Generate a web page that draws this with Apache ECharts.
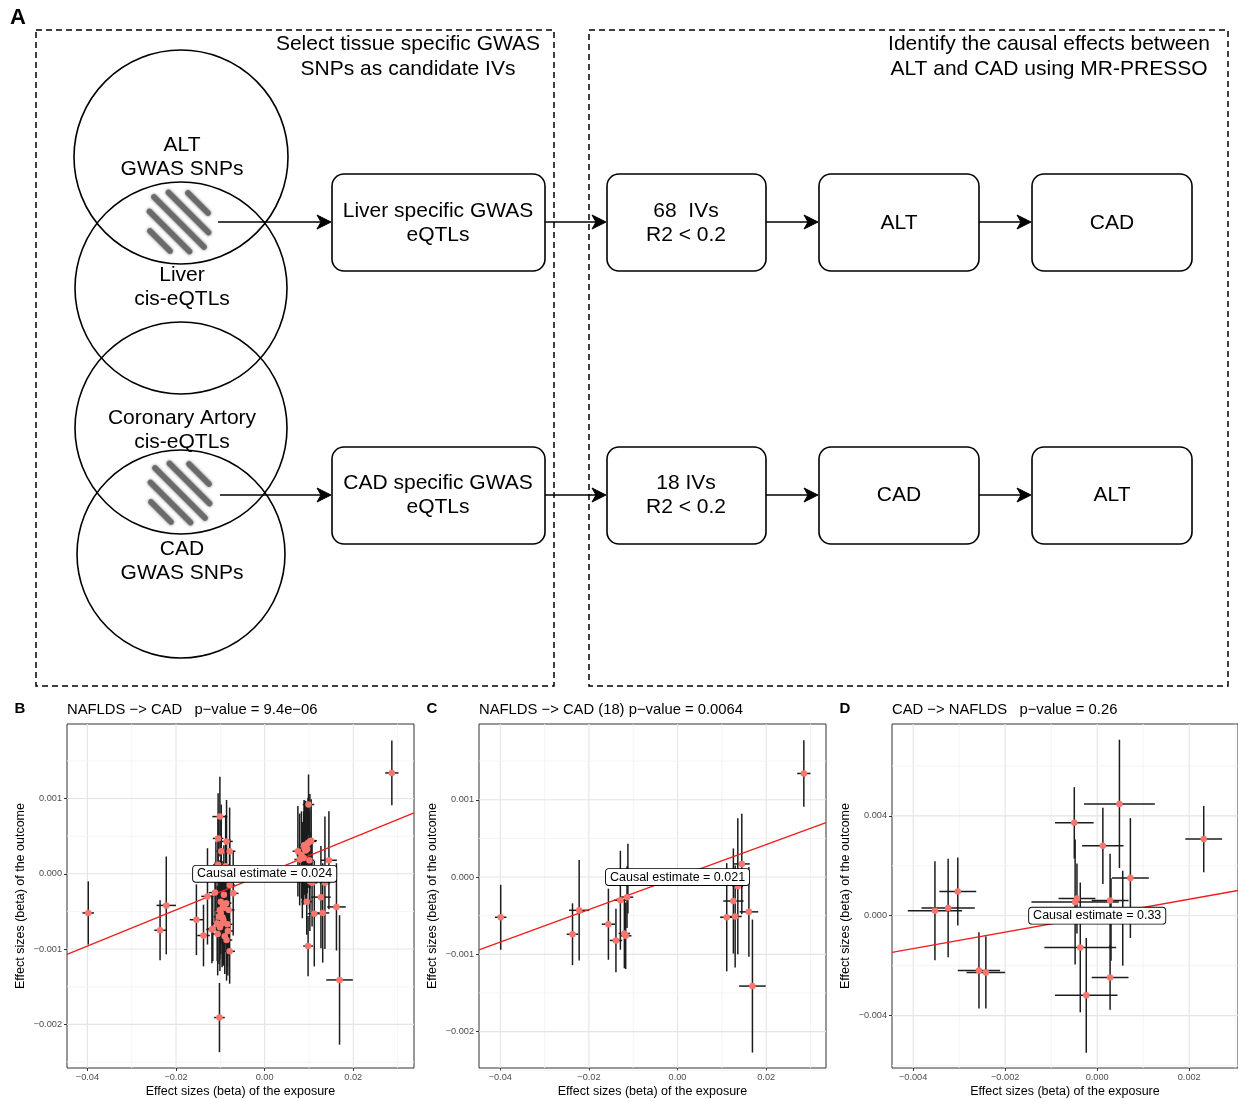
<!DOCTYPE html>
<html>
<head>
<meta charset="utf-8">
<script src="https://cdn.jsdelivr.net/npm/echarts@6/dist/echarts.min.js"></script>
<style>
  html, body { margin: 0; padding: 0; background: #ffffff; }
  #chart { width: 1238px; height: 1099px; }
</style>
</head>
<body>
<div id="chart"></div>
<script>
// ---------------- Panel B: NAFLDS -> CAD, all 68 IVs ----------------
const bExposure = [
  -0.0398, -0.0236, -0.0222, -0.0154, -0.0138, -0.0129, -0.0119, -0.0117, -0.0112,
   0.0112,  0.0127,  0.0131,  0.0136,  0.0145,  0.0162,  0.0169,  0.0287, -0.0110,
  -0.0101, -0.0105, -0.0086, -0.0098, -0.0079, -0.0099, -0.0094, -0.0091, -0.0101,
  -0.0081, -0.0099, -0.0103, -0.0107, -0.0096, -0.0090, -0.0086, -0.0079, -0.0071,
  -0.0102, -0.0079, -0.0092, -0.0083, -0.0098, -0.0088, -0.0106, -0.0095, -0.0093,
  -0.0101, -0.0087, -0.0105, -0.0084,
   0.0099,  0.0075,  0.0083,  0.0090,  0.0094,  0.0098,  0.0102,  0.0105,  0.0092,
   0.0079,  0.0095,  0.0098,  0.0085,  0.0102,  0.0096,  0.0088,  0.0107,  0.0101,  0.0089
];
const bOutcome = [
  -0.00052, -0.00075, -0.00042, -0.00061, -0.00082, -0.00030, -0.00074, -0.00073, -0.00025,
  -0.00053, -0.00031, -0.00052, -0.00012,  0.00018, -0.00044, -0.00141,  0.00134, -0.00002,
   0.00076,  0.00047,  0.00043,  0.00030,  0.00030, -0.00037, -0.00043, -0.00045, -0.00048,
  -0.00048, -0.00052, -0.00057, -0.00066, -0.00066, -0.00083, -0.00088, -0.00103, -0.00026,
  -0.00191, -0.00015, -0.00028, -0.00076,  0.00000,  0.00010, -0.00080, -0.00058, -0.00062,
  -0.00071, -0.00039,  0.00012, -0.00067,
   0.00092,  0.00030,  0.00025,  0.00034,  0.00039,  0.00041,  0.00043,  0.00044,  0.00031,
   0.00019, -0.00037, -0.00096,  0.00005, -0.00010,  0.00033,  0.00021, -0.00012,  0.00018,  0.00038
];
const bExposureSe = [
  0.0013, 0.0013, 0.0022, 0.0015, 0.0014, 0.0014, 0.0013, 0.0013, 0.0014,
  0.0015, 0.0022, 0.0015, 0.0012, 0.0018, 0.0021, 0.0030, 0.0015, 0.0012,
  0.0017, 0.0012, 0.0014, 0.0011, 0.0013, 0.0012, 0.0010, 0.0011, 0.0012,
  0.0013, 0.0011, 0.0012, 0.0013, 0.0011, 0.0012, 0.0013, 0.0012, 0.0012,
  0.0012, 0.0012, 0.0011, 0.0012, 0.0010, 0.0011, 0.0012, 0.0011, 0.0010,
  0.0011, 0.0012, 0.0011, 0.0011,
  0.0013, 0.0012, 0.0011, 0.0012, 0.0013, 0.0012, 0.0014, 0.0013, 0.0011,
  0.0012, 0.0012, 0.0011, 0.0011, 0.0012, 0.0011, 0.0012, 0.0012, 0.0011, 0.0012
];
const bOutcomeSe = [
  0.00042, 0.00040, 0.00065, 0.00047, 0.00041, 0.00064, 0.00045, 0.00043, 0.00040,
  0.00070, 0.00068, 0.00066, 0.00088, 0.00065, 0.00058, 0.00086, 0.00043, 0.00045,
  0.00053, 0.00060, 0.00055, 0.00062, 0.00058, 0.00057, 0.00060, 0.00052, 0.00066,
  0.00061, 0.00055, 0.00063, 0.00050, 0.00058, 0.00050, 0.00054, 0.00043, 0.00056,
  0.00046, 0.00061, 0.00066, 0.00059, 0.00070, 0.00068, 0.00055, 0.00064, 0.00060,
  0.00058, 0.00063, 0.00066, 0.00057,
  0.00040, 0.00060, 0.00058, 0.00062, 0.00057, 0.00060, 0.00063, 0.00055, 0.00066,
  0.00061, 0.00044, 0.00040, 0.00064, 0.00066, 0.00059, 0.00062, 0.00058, 0.00065, 0.00060
];
const bSlope = 0.024;

// ---------------- Panel C: NAFLDS -> CAD, 18 IVs ----------------
const cExposure = [
  -0.0399, -0.0237, -0.0222, -0.0156, -0.0139, -0.0129, -0.0120, -0.0117, -0.0114,
   0.0111,  0.0126,  0.0130,  0.0136,  0.0145,  0.0161,  0.0169,  0.0285, -0.0112
];
const cOutcome = [
  -0.00052, -0.00074, -0.00043, -0.00061, -0.00082, -0.00030, -0.00073, -0.00076, -0.00026,
  -0.00052, -0.00031, -0.00051, -0.00012,  0.00017, -0.00045, -0.00141,  0.00134, -0.00002
];
const cExposureSe = [
  0.0013, 0.0013, 0.0023, 0.0015, 0.0014, 0.0014, 0.0013, 0.0013, 0.0014,
  0.0015, 0.0023, 0.0015, 0.0012, 0.0018, 0.0021, 0.0030, 0.0015, 0.0012
];
const cOutcomeSe = [
  0.00042, 0.00040, 0.00065, 0.00046, 0.00041, 0.00064, 0.00045, 0.00043, 0.00040,
  0.00070, 0.00068, 0.00066, 0.00088, 0.00065, 0.00058, 0.00086, 0.00043, 0.00045
];
const cSlope = 0.021;

// ---------------- Panel D: CAD -> NAFLDS ----------------
const dExposure = [
  -0.003527, -0.00324, -0.00303, -0.00257, -0.00242, -0.000498, 0.000483, 0.000123, 0.002315,
   0.000721, -0.00044, -0.00048, 0.00028, -0.000368, 0.00028, -0.000238, 0.000555, 0.00030
];
const dOutcome = [
   0.00020, 0.00031, 0.00097, -0.00219, -0.00227, 0.00372, 0.00448, 0.00280, 0.00307,
   0.00151, 0.00069, 0.00055, 0.00061, -0.00127, -0.00247, -0.00319, -0.00010, -0.00015
];
const dExposureSe = [
  0.00059, 0.00058, 0.00040, 0.00046, 0.00042, 0.00042, 0.00077, 0.00045, 0.00040,
  0.00040, 0.00040, 0.00095, 0.00040, 0.00078, 0.00040, 0.00068, 0.00030, 0.00020
];
const dOutcomeSe = [
  0.00198, 0.00197, 0.00136, 0.00153, 0.00145, 0.00143, 0.00257, 0.00153, 0.00133,
  0.00240, 0.00140, 0.00250, 0.00187, 0.00260, 0.00130, 0.00230, 0.00190, 0.00165
];
const dSlope = 0.33;

// ---------------- Axis ticks and labels ----------------
const abTicksX = [-0.04, -0.02, 0, 0.02];
const abLabelsX = ['\u22120.04', '\u22120.02', '0.00', '0.02'];
const abMinorX = [-0.03, -0.01, 0.01, 0.03];
const abTicksY = [-0.002, -0.001, 0, 0.001];
const abLabelsY = ['\u22120.002', '\u22120.001', '0.000', '0.001'];
const abMinorY = [-0.0025, -0.0015, -0.0005, 0.0005, 0.0015];
const dTicksX = [-0.004, -0.002, 0, 0.002];
const dLabelsX = ['\u22120.004', '\u22120.002', '0.000', '0.002'];
const dMinorX = [-0.003, -0.001, 0.001, 0.003];
const dTicksY = [-0.004, 0, 0.004];
const dLabelsY = ['\u22120.004', '0.000', '0.004'];
const dMinorY = [-0.006, -0.002, 0.002, 0.006];

const FONT = '"Liberation Sans", Arial, Helvetica, sans-serif';

const chart = echarts.init(document.getElementById('chart'), null, { renderer: 'canvas' });

const grids = [];
const xAxes = [];
const yAxes = [];
const series = [];

function labelFor(ticks, labels) {
  return function (v) {
    for (let i = 0; i < ticks.length; i++) {
      if (Math.abs(v - ticks[i]) < 1e-9) return labels[i];
    }
    return '';
  };
}

function addPanel(p) {
  const i = grids.length;
  grids.push({
    left: p.left, top: 724, width: 347, height: 344,
    show: true, borderColor: '#333333', borderWidth: 1, backgroundColor: 'rgba(0,0,0,0)'
  });
  xAxes.push({
    gridIndex: i, type: 'value', min: p.xExt[0], max: p.xExt[1], position: 'bottom',
    axisLine: { show: false, onZero: false }, splitLine: { show: false },
    axisTick: { show: true, inside: false, customValues: p.xTicks, length: 3, lineStyle: { color: '#333333', width: 1 } },
    axisLabel: { customValues: p.xTicks, formatter: labelFor(p.xTicks, p.xLabels), color: '#4D4D4D', fontSize: 9.2, margin: 5, fontFamily: FONT },
    name: 'Effect sizes (beta) of the exposure', nameLocation: 'middle', nameGap: 17,
    nameTextStyle: { color: '#000000', fontSize: 12.5, fontFamily: FONT }
  });
  yAxes.push({
    gridIndex: i, type: 'value', min: p.yExt[0], max: p.yExt[1], position: 'left',
    axisLine: { show: false, onZero: false }, splitLine: { show: false },
    axisTick: { show: true, inside: false, customValues: p.yTicks, length: 3, lineStyle: { color: '#333333', width: 1 } },
    axisLabel: { customValues: p.yTicks, formatter: labelFor(p.yTicks, p.yLabels), color: '#4D4D4D', fontSize: 9.2, margin: 5, fontFamily: FONT },
    name: 'Effect sizes (beta) of the outcome', nameLocation: 'middle', nameGap: 40,
    nameTextStyle: { color: '#000000', fontSize: 12.5, fontFamily: FONT }
  });

  // background grid: [value, vertical?, major?]
  const gridRows = [];
  p.xTicks.forEach(v => gridRows.push([v, 1, 1]));
  p.xMinor.forEach(v => gridRows.push([v, 1, 0]));
  p.yTicks.forEach(v => gridRows.push([v, 0, 1]));
  p.yMinor.forEach(v => gridRows.push([v, 0, 0]));
  series.push({
    type: 'custom', xAxisIndex: i, yAxisIndex: i, silent: true, z: 1,
    data: gridRows,
    renderItem: function (params, api) {
      const v = api.value(0);
      const vertical = api.value(1) === 1;
      const major = api.value(2) === 1;
      const a = vertical ? api.coord([v, p.yExt[0]]) : api.coord([p.xExt[0], v]);
      const b = vertical ? api.coord([v, p.yExt[1]]) : api.coord([p.xExt[1], v]);
      return {
        type: 'line',
        shape: { x1: a[0], y1: a[1], x2: b[0], y2: b[1] },
        style: { stroke: major ? '#E4E4E4' : '#F1F1F1', lineWidth: major ? 1.1 : 0.8 }
      };
    }
  });

  // error bars for exposure and outcome effects
  const rows = p.ex.map((x, k) => [x, p.out[k], p.exSe[k], p.outSe[k]]);
  series.push({
    type: 'custom', xAxisIndex: i, yAxisIndex: i, silent: true, z: 2,
    data: rows,
    encode: { x: 0, y: 1 },
    renderItem: function (params, api) {
      const x = api.value(0), y = api.value(1), sx = api.value(2), sy = api.value(3);
      const l = api.coord([x - sx, y]), r = api.coord([x + sx, y]);
      const lo = api.coord([x, y - sy]), hi = api.coord([x, y + sy]);
      const st = { stroke: '#1c1c1c', lineWidth: 1.5 };
      return {
        type: 'group',
        children: [
          { type: 'line', shape: { x1: l[0], y1: l[1], x2: r[0], y2: r[1] }, style: st },
          { type: 'line', shape: { x1: lo[0], y1: lo[1], x2: hi[0], y2: hi[1] }, style: st }
        ]
      };
    }
  });

  // causal estimate line through the origin
  series.push({
    type: 'line', xAxisIndex: i, yAxisIndex: i, silent: true, z: 3,
    data: [[p.xExt[0], p.slope * p.xExt[0]], [p.xExt[1], p.slope * p.xExt[1]]],
    symbol: 'none', clip: true,
    lineStyle: { color: '#F21C1C', width: 1.3 }
  });

  // SNP points
  series.push({
    type: 'scatter', xAxisIndex: i, yAxisIndex: i, silent: true, z: 4,
    data: p.ex.map((x, k) => [x, p.out[k]]),
    symbol: 'circle', symbolSize: 6.5,
    itemStyle: { color: '#F8766D', opacity: 1 }
  });

  // estimate label at the origin
  series.push({
    type: 'custom', xAxisIndex: i, yAxisIndex: i, silent: true, z: 6,
    data: [[0, 0]],
    renderItem: function (params, api) {
      const c = api.coord([api.value(0), api.value(1)]);
      return {
        type: 'text', x: c[0], y: c[1],
        style: {
          text: 'Causal estimate = ' + p.slope, x: 0, y: 0,
          align: 'center', verticalAlign: 'middle',
          font: '12.5px ' + FONT, fill: '#000000',
          backgroundColor: '#ffffff', borderColor: '#000000', borderWidth: 0.9, borderRadius: 3,
          padding: [2, 4, 1, 4]
        }
      };
    }
  });
}

addPanel({
  left: 67, xExt: [-0.0446, 0.0337], yExt: [-0.00258, 0.00199],
  xTicks: abTicksX, xLabels: abLabelsX, xMinor: abMinorX,
  yTicks: abTicksY, yLabels: abLabelsY, yMinor: abMinorY,
  ex: bExposure, out: bOutcome, exSe: bExposureSe, outSe: bOutcomeSe, slope: bSlope
});
addPanel({
  left: 479, xExt: [-0.0448, 0.0335], yExt: [-0.00247, 0.00198],
  xTicks: abTicksX, xLabels: abLabelsX, xMinor: abMinorX,
  yTicks: abTicksY, yLabels: abLabelsY, yMinor: abMinorY,
  ex: cExposure, out: cOutcome, exSe: cExposureSe, outSe: cOutcomeSe, slope: cSlope
});
addPanel({
  left: 892, xExt: [-0.00446, 0.00306], yExt: [-0.00610, 0.00768],
  xTicks: dTicksX, xLabels: dLabelsX, xMinor: dMinorX,
  yTicks: dTicksY, yLabels: dLabelsY, yMinor: dMinorY,
  ex: dExposure, out: dOutcome, exSe: dExposureSe, outSe: dOutcomeSe, slope: dSlope
});

// ---------------- Workflow diagram (panel A) ----------------
const graphics = [];

function txt(text, x, y, size, opts) {
  opts = opts || {};
  graphics.push({
    type: 'text', silent: true, z: 10,
    style: {
      text: text, x: x, y: y, fill: '#000000',
      font: (opts.bold ? 'bold ' : '') + size + 'px ' + FONT,
      align: opts.align || 'center', verticalAlign: 'middle',
      lineHeight: opts.lineHeight || 25
    }
  });
}

function dashedBox(x, y, w, h) {
  graphics.push({
    type: 'rect', silent: true, z: 5,
    shape: { x: x, y: y, width: w, height: h },
    style: { fill: 'none', stroke: '#000000', lineWidth: 1.5, lineDash: [6, 4] }
  });
}

function roundBox(x, y, w, h) {
  graphics.push({
    type: 'rect', silent: true, z: 7,
    shape: { x: x, y: y, width: w, height: h, r: 12 },
    style: { fill: '#ffffff', stroke: '#000000', lineWidth: 1.6 }
  });
}

function circle(cx, cy, r) {
  graphics.push({
    type: 'circle', silent: true, z: 6,
    shape: { cx: cx, cy: cy, r: r },
    style: { fill: 'none', stroke: '#000000', lineWidth: 1.6 }
  });
}

function arrow(x1, x2, y) {
  graphics.push({
    type: 'line', silent: true, z: 8,
    shape: { x1: x1, y1: y, x2: x2 - 8, y2: y },
    style: { stroke: '#000000', lineWidth: 1.6 }
  });
  graphics.push({
    type: 'polygon', silent: true, z: 8,
    shape: { points: [[x2, y], [x2 - 14, y - 7], [x2 - 10, y], [x2 - 14, y + 7]] },
    style: { fill: '#000000', stroke: '#000000', lineWidth: 1 }
  });
}

function hatch(cx, cy) {
  // five diagonal strokes inside the overlap of two circles
  const strokes = [
    [-25, -25, 25, 25],
    [-10.5, -29.5, 29.5, 10.5],
    [9, -29, 29, -9],
    [-29.5, -10.5, 10.5, 29.5],
    [-29, 9, -9, 29]
  ];
  strokes.forEach(s => {
    graphics.push({
      type: 'line', silent: true, z: 6,
      shape: { x1: cx + s[0], y1: cy + s[1], x2: cx + s[2], y2: cy + s[3] },
      style: {
        stroke: '#6a6a6a', lineWidth: 5.5, lineCap: 'round',
        shadowBlur: 3, shadowColor: 'rgba(90,90,90,0.9)'
      }
    });
  });
}

txt('A', 18, 18, 22, { bold: true });
dashedBox(36, 30, 518, 656);
dashedBox(589, 30, 639, 656);
txt('Select tissue specific GWAS\nSNPs as candidate IVs', 408, 57, 21);
txt('Identify the causal effects between\nALT and CAD using MR-PRESSO', 1049, 57, 21);

circle(181, 157, 107);
circle(181, 288, 106);
circle(181, 428, 106);
circle(181, 554, 104);
hatch(179, 222);
hatch(180, 493);

txt('ALT\nGWAS SNPs', 182, 157, 21, { lineHeight: 24 });
txt('Liver\ncis-eQTLs', 182, 287, 21, { lineHeight: 24 });
txt('Coronary Artory\ncis-eQTLs', 182, 430, 21, { lineHeight: 24 });
txt('CAD\nGWAS SNPs', 182, 561, 21, { lineHeight: 24 });

const rowY = [222, 495];
const boxX = [[332, 213], [607, 159], [819, 160], [1032, 160]];
rowY.forEach(y => boxX.forEach(b => roundBox(b[0], y - 48, b[1], 97)));

arrow(218, 331, 222);
arrow(545, 606, 222);
arrow(766, 818, 222);
arrow(979, 1031, 222);
arrow(220, 331, 495);
arrow(545, 606, 495);
arrow(766, 818, 495);
arrow(979, 1031, 495);

txt('Liver specific GWAS\neQTLs', 438, 223, 21, { lineHeight: 24 });
txt('68  IVs\nR2 < 0.2', 686, 223, 21, { lineHeight: 24 });
txt('ALT', 899, 223, 21);
txt('CAD', 1112, 223, 21);
txt('CAD specific GWAS\neQTLs', 438, 495, 21, { lineHeight: 24 });
txt('18 IVs\nR2 < 0.2', 686, 495, 21, { lineHeight: 24 });
txt('CAD', 899, 495, 21);
txt('ALT', 1112, 495, 21);

// ---------------- Panel letters and titles ----------------
txt('B', 20, 709, 15, { bold: true });
txt('C', 432, 709, 15, { bold: true });
txt('D', 845, 709, 15, { bold: true });
txt('NAFLDS \u2212> CAD   p\u2212value = 9.4e\u221206', 67, 710, 14.8, { align: 'left' });
txt('NAFLDS \u2212> CAD (18) p\u2212value = 0.0064', 479, 710, 14.8, { align: 'left' });
txt('CAD \u2212> NAFLDS   p\u2212value = 0.26', 892, 710, 14.8, { align: 'left' });

chart.setOption({
  animation: false,
  backgroundColor: '#ffffff',
  textStyle: { fontFamily: FONT },
  grid: grids,
  xAxis: xAxes,
  yAxis: yAxes,
  series: series,
  graphic: { elements: graphics }
});
</script>
</body>
</html>
